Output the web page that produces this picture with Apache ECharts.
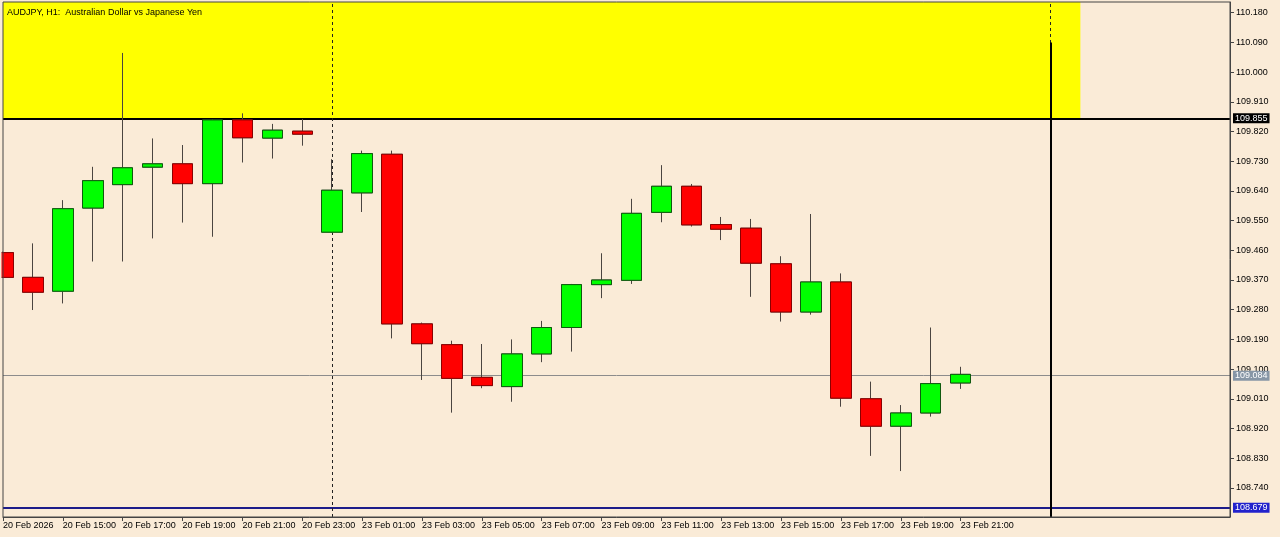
<!DOCTYPE html>
<html>
<head>
<meta charset="utf-8">
<script src="https://cdn.jsdelivr.net/npm/echarts@6/dist/echarts.min.js"></script>
<style>
html,body{margin:0;padding:0;background:#FAEBD7;}
#chart{width:1280px;height:537px;}
</style>
</head>
<body>
<div id="chart"></div>
<script>
// ---- data ----
const categories = [
  "20 Feb 13:00","20 Feb 14:00","20 Feb 15:00","20 Feb 16:00","20 Feb 17:00","20 Feb 18:00",
  "20 Feb 19:00","20 Feb 20:00","20 Feb 21:00","20 Feb 22:00","20 Feb 23:00",
  "23 Feb 00:00","23 Feb 01:00","23 Feb 02:00","23 Feb 03:00","23 Feb 04:00","23 Feb 05:00",
  "23 Feb 06:00","23 Feb 07:00","23 Feb 08:00","23 Feb 09:00","23 Feb 10:00","23 Feb 11:00",
  "23 Feb 12:00","23 Feb 13:00","23 Feb 14:00","23 Feb 15:00","23 Feb 16:00","23 Feb 17:00",
  "23 Feb 18:00","23 Feb 19:00","23 Feb 20:00","23 Feb 21:00","23 Feb 22:00","23 Feb 23:00",
  "24 Feb 00:00","24 Feb 01:00","24 Feb 02:00","24 Feb 03:00","24 Feb 04:00","24 Feb 05:00","24 Feb 06:00"
];
const opens  = [109.453,109.378,109.336,109.588,109.659,109.712,109.722,109.662,109.855,109.800,109.821,
                109.515,109.634,109.751,109.237,109.174,109.075,109.047,109.146,109.226,109.356,109.369,
                109.575,109.654,109.538,109.527,109.419,109.273,109.364,109.010,108.927,108.967,109.058];
const highs  = [109.456,109.481,109.612,109.713,110.058,109.799,109.779,109.857,109.875,109.843,109.858,
                109.736,109.762,109.762,109.241,109.186,109.176,109.190,109.246,109.358,109.451,109.616,
                109.718,109.661,109.561,109.555,109.442,109.570,109.390,109.062,108.991,109.226,109.107];
const lows   = [109.376,109.279,109.299,109.426,109.426,109.496,109.544,109.501,109.726,109.738,109.777,
                109.513,109.576,109.193,109.067,108.968,109.042,109.001,109.121,109.153,109.315,109.358,
                109.545,109.532,109.491,109.319,109.244,109.265,108.986,108.837,108.791,108.956,109.040];
const closes = [109.378,109.333,109.586,109.671,109.710,109.722,109.662,109.855,109.801,109.824,109.812,
                109.642,109.753,109.237,109.177,109.072,109.050,109.146,109.226,109.356,109.370,109.572,
                109.654,109.537,109.524,109.421,109.273,109.364,109.012,108.927,108.967,109.056,109.084];
const priceTicks = [108.740,108.830,108.920,109.010,109.100,109.190,109.280,109.370,109.460,
                    109.550,109.640,109.730,109.820,109.910,110.000,110.090,110.180];
const levelHigh = 109.855;
const levelBid = 109.084;
const levelLow = 108.679;
const trendTop = 110.090;
const yMin = 108.6518, yMax = 110.2124;
const daySeparators = ["23 Feb 00:00","24 Feb 00:00"];
const verticalAt = "24 Feb 00:00";
const rectEnd = "24 Feb 01:00";
const firstLabel = "20 Feb 2026";
const lastLabelIndex = 32;

// ---- build ----
const wickData = opens.map((o,i)=>[o, closes[i], lows[i], highs[i]]);
const bodyData = opens.map((o,i)=>[o, closes[i], Math.min(o,closes[i]), Math.max(o,closes[i])]);
const FONT = 'Liberation Sans';
const BG = '#FAEBD7';
const showIdx = (i)=> i % 2 === 0 && i <= lastLabelIndex;

const chart = echarts.init(document.getElementById('chart'), null, {renderer:'canvas'});
chart.setOption({
  backgroundColor:BG,
  animation:false,
  title:{
    text:'AUDJPY, H1:  Australian Dollar vs Japanese Yen',
    left:2, top:3,
    textStyle:{fontFamily:FONT,fontSize:9,fontWeight:'normal',color:'#000'}
  },
  graphic:[
    {type:'rect', left:0, top:0, shape:{x:0,y:0,width:1.5,height:537}, style:{fill:BG}, z:20, silent:true}
  ],
  grid:{left:2,right:50,top:2,bottom:20,show:true,borderColor:'#444',borderWidth:1,backgroundColor:'transparent',z:5},
  xAxis:{
    type:'category', data:categories, boundaryGap:false,
    axisLine:{show:true,lineStyle:{color:'#444',width:1}},
    axisTick:{show:true,length:4,interval:(i)=>showIdx(i),lineStyle:{color:'#444'}},
    axisLabel:{interval:(i)=>showIdx(i),align:'left',margin:4,fontFamily:FONT,fontSize:9,color:'#000',
      formatter:(v,i)=> i===0 ? firstLabel : v},
    splitLine:{show:false}
  },
  yAxis:{
    type:'value', position:'right', min:yMin, max:yMax, scale:true,
    axisLine:{show:true,lineStyle:{color:'#444',width:1}},
    axisTick:{show:true,length:4,customValues:priceTicks,lineStyle:{color:'#444'}},
    axisLabel:{customValues:priceTicks,margin:6,fontFamily:FONT,fontSize:9,color:'#000',
      formatter:(v)=>v.toFixed(3)},
    splitLine:{show:false}
  },
  series:[
    {
      type:'line', data:[], z:1, clip:false, silent:true,
      markArea:{
        silent:true, z:1,
        itemStyle:{color:'#FFFF00'},
        data:[[{xAxis:categories[0], yAxis:levelHigh},{xAxis:rectEnd, yAxis:yMax}]]
      },
      markLine:{
        silent:true, z:2, symbol:['none','none'], animation:false,
        data:[
          {yAxis:levelHigh, lineStyle:{color:'#000',width:2,type:'solid'},
            label:{show:true,position:'end',distance:3,formatter:levelHigh.toFixed(3),color:'#fff',backgroundColor:'#000',padding:[1,2,0,2],fontFamily:FONT,fontSize:9}},
          {yAxis:levelBid, lineStyle:{color:'#8c8c8c',width:1,type:'solid'},
            label:{show:true,position:'end',distance:3,formatter:levelBid.toFixed(3),color:'#fff',backgroundColor:'#8796a6',padding:[1,2,0,2],fontFamily:FONT,fontSize:9}},
          {yAxis:levelLow, lineStyle:{color:'#1c1c8a',width:2,type:'solid'},
            label:{show:true,position:'end',distance:3,formatter:levelLow.toFixed(3),color:'#fff',backgroundColor:'#2222cc',padding:[1,2,0,2],fontFamily:FONT,fontSize:9}},
          {xAxis:daySeparators[0], lineStyle:{color:'#222',width:1,type:[3,3]}, label:{show:false}},
          {xAxis:daySeparators[1], lineStyle:{color:'#222',width:1,type:[3,3]}, label:{show:false}},
          [{coord:[verticalAt, trendTop], lineStyle:{color:'#000',width:2,type:'solid'}, label:{show:false}},
           {coord:[verticalAt, yMin]}]
        ]
      }
    },
    {
      type:'candlestick', name:'wicks', data:wickData, z:3, barWidth:21, clip:true,
      itemStyle:{color:'#00FF00',color0:'#FF0000',borderColor:'#4a4440',borderColor0:'#4a4440',borderWidth:1}
    },
    {
      type:'candlestick', name:'bodies', data:bodyData, z:4, barWidth:21, clip:true,
      itemStyle:{color:'#00FF00',color0:'#FF0000',borderColor:'#0f5a0f',borderColor0:'#8b0000',borderWidth:1}
    }
  ]
});
</script>
</body>
</html>
